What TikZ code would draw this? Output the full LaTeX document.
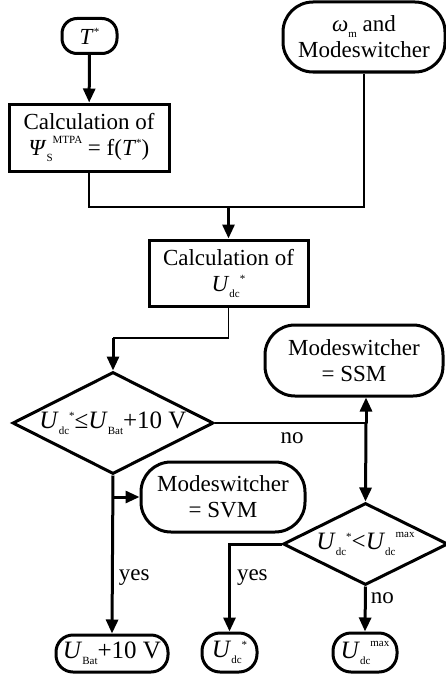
\documentclass[tikz,border=0pt]{standalone}
\usepackage{fontspec}
\setmainfont{Liberation Serif}
\usepackage{tikz}
\usetikzlibrary{arrows.meta,positioning,shapes.geometric,calc}
\newcommand\lo[1]{\raisebox{-6pt}{\fontsize{11}{11}\selectfont #1}}
\newcommand\hi[2][12pt]{\raisebox{#1}{\fontsize{11}{11}\selectfont #2}}

\begin{document}
\begin{tikzpicture}[x=1pt,y=-1pt,
  font=\fontsize{23}{26}\selectfont,
  startend/.style={draw,rectangle,rounded corners=30pt,line width=3pt,inner sep=1pt,align=center},
  calcbox/.style={draw,rectangle,line width=3pt,minimum width=160pt,minimum height=67pt,inner sep=1pt,align=center},
  decision/.style={draw,diamond,aspect=2,line width=3pt,inner sep=0pt,font=\fontsize{25}{28}\selectfont},
  flow/.style={line width=3pt,-{Triangle[length=14pt,width=12pt]}},
  link/.style={line width=1.3pt},
  lbl/.style={inner sep=1pt}]
  \useasboundingbox (0,0) rectangle (446,677);
  % inputs
  \node [startend,rounded corners=15pt,minimum width=55pt,minimum height=35pt] (tstar) at (89.5,36) {\textit{T}\hi[9pt]{*}};
  \node [startend,minimum width=162pt,minimum height=70pt] (omega) at (364,37) {\textit{ω}\lo{m} and\\Modeswitcher};
  \node [calcbox] (calcpsi) at (89,137.5) {Calculation of\\\textit{Ψ}\lo{S}\hi{MTPA} = f(\textit{T}\hi[9pt]{*})};
  \node [calcbox,minimum width=159pt,minimum height=66pt] (calcu) at (228.5,273) {Calculation of\\\textit{U}\lo{dc}\hi[9pt]{*}};
  % decisions
  \node [decision,minimum width=201pt,minimum height=102pt] (dia1) at (113,423) {\makebox[0pt]{\textit{U}\lo{dc}\hi[9pt]{*}≤\textit{U}\lo{Bat}+10 V}};
  \node [decision,minimum width=165pt,minimum height=82pt] (dia2) at (365.5,544) {\makebox[0pt]{\textit{U}\lo{dc}\hi[9pt]{*}<\textit{U}\lo{dc}\hi{max}}};
  \node [startend,minimum width=178pt,minimum height=71pt] (ssm) at (354,360.5) {Modeswitcher\\= SSM};
  \node [startend,minimum width=164pt,minimum height=70pt] (svm) at (223,497) {Modeswitcher\\= SVM};
  % outputs
  \node [startend,rounded corners=17pt,minimum width=112pt,minimum height=37pt,font=\fontsize{25}{28}\selectfont] (ubat) at (112,653.5) {\textit{U}\lo{Bat}+10 V};
  \node [startend,rounded corners=18pt,minimum width=55pt,minimum height=39pt,font=\fontsize{25}{28}\selectfont] (udcs) at (229.5,652.5) {\textit{U}\lo{dc}\hi[9pt]{*}};
  \node [startend,rounded corners=18pt,minimum width=64pt,minimum height=39pt,font=\fontsize{25}{28}\selectfont] (udcm) at (365,652.5) {\textit{U}\lo{dc}\hi{max}};

  \coordinate (join) at (228.5,207);
  \coordinate (bend) at (113,338);
  \coordinate (fork) at (366,423);
  \draw [flow] (tstar) -- (calcpsi);
  \draw [link] (calcpsi.south) |- (join) -| (omega.south);
  \draw [flow] (join) -- (calcu.north);
  \draw [link] (calcu.south) |- (bend);
  \draw [flow] (bend) -- (dia1.north);
  \draw [link] (dia1.east) -- (fork) node [lbl,pos=0.51,below=8pt] {no};
  \draw [flow] (fork) -- (ssm.south -| fork);
  \draw [flow] (fork) -- (dia2.north);
  \draw [flow] (dia1.south) -- (ubat.north) node [lbl,pos=0.646,right=4pt] {yes};
  \draw [flow] (dia1.south |- svm.west) -- (svm.west);
  \draw [flow] (dia2.west) -| (udcs.north) node [lbl,pos=0.69,right=5pt] {yes};
  \draw [flow] (dia2.south) -- (udcm.north) node [lbl,pos=0.27,right=3pt] {no};
\end{tikzpicture}
\end{document}
